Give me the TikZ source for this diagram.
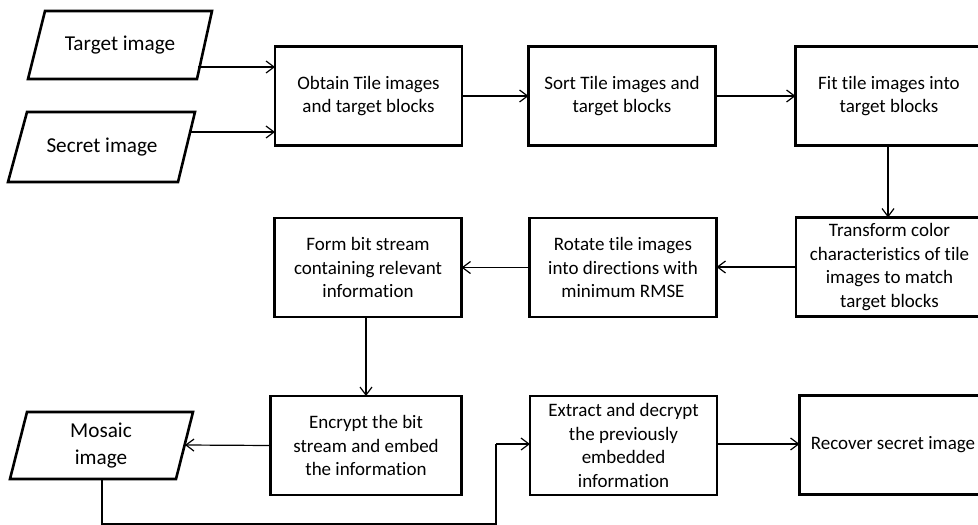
\documentclass[tikz,border=0pt]{standalone}
\usepackage{fontspec}
\setmainfont{Carlito}[RawFeature={-liga;-clig;-dlig;-calt}]
\usetikzlibrary{arrows.meta}
\begin{document}
\begin{tikzpicture}[x=1pt,y=-1pt,
  box/.style={draw, line width=2.6pt, align=center, inner sep=0pt, outer sep=0pt,
    minimum width=187pt, minimum height=99pt, font=\fontsize{19}{23.5}\selectfont},
  para/.style={draw, line width=2.6pt, line join=miter},
  ptext/.style={align=center, inner sep=0pt, font=\fontsize{21.2}{27}\selectfont},
  arr/.style={line width=1.2pt, -{Straight Barb[length=8pt,width=12pt,line width=1.2pt]}},
  conn/.style={line width=1.2pt}]
\clip (0,0) rectangle (978,525);
\fill[white] (0,0) rectangle (978,525);

% parallelograms
\draw[para] (45,11) -- (212,11) -- (197,79) -- (28,79) -- cycle;
\node[ptext] (target) at (120,45) {Target image};
\coordinate (targetout) at (198,67);
\draw[para] (27,112) -- (195,112) -- (178,182) -- (8,182) -- cycle;
\node[ptext] (secret) at (102,147) {Secret image};
\coordinate (secretout) at (190,132);
\draw[para] (27,412) -- (193,412) -- (176,479) -- (10,479) -- cycle;
\node[ptext] (mosaic) at (101,446) {Mosaic\\image};
\coordinate (mosaicin) at (185,445);
\coordinate (mosaicout) at (102,479);
\coordinate (c1) at (102,524);
\coordinate (c2) at (496,524);
\coordinate (c3) at (496,444);

% boxes
\node[box] (obtain) at (368.5,96) {Obtain Tile images\\and target blocks};
\node[box] (sort) at (622,96) {Sort Tile images and\\target blocks};
\node[box] (fit) at (889,96) {Fit tile images into\\target blocks};
\node[box] (transform) at (889.5,267) {Transform color\\characteristics of tile\\images to match\\target blocks};
\node[box] (rotate) at (623,267.5) {Rotate tile images\\into directions with\\minimum RMSE};
\node[box] (form) at (368,267.5) {Form bit stream\\containing relevant\\information};
\node[box, minimum width=191pt] (encrypt) at (366,445.5) {Encrypt the bit\\stream and embed\\the information};
\node[box] (extract) at (623.5,445.5) {Extract and decrypt\\the previously\\embedded\\information};
\node[box] (recover) at (893,445) {Recover secret image};

% connectors
\draw[arr] (targetout) -- (targetout -| obtain.west);
\draw[arr] (secretout) -- (secretout -| obtain.west);
\draw[arr] (obtain) -- (sort);
\draw[arr] (sort) -- (fit);
\draw[arr] (fit.south -| 888,0) -- (transform.north -| 888,0);
\draw[arr] (transform.west) -- (rotate.east |- transform.west);
\draw[arr] (rotate.west) -- (form.east |- rotate.west);
\draw[arr] (form.south -| 366,0) -- (encrypt.north -| 366,0);
\draw[arr] (encrypt.west) -- (mosaicin);
\draw[conn] (mosaicout) -- (c1) -- (c2) -- (c3);
\draw[arr] (c3) -- (c3 -| extract.west);
\draw[arr] (extract.east |- 0,444) -- (recover.west |- 0,444);
\end{tikzpicture}
\end{document}
